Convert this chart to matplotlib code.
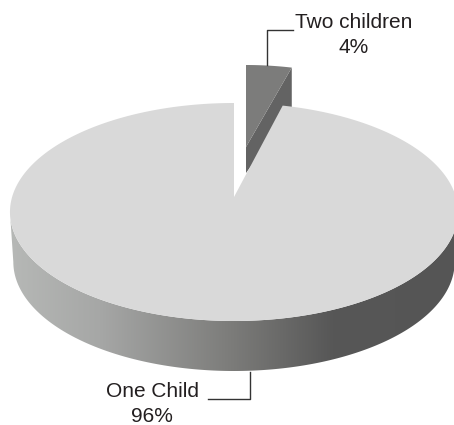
import matplotlib
matplotlib.use('Agg')
import matplotlib.pyplot as plt
from matplotlib.colors import LinearSegmentedColormap
from matplotlib.patches import Polygon
import numpy as np

plt.rcParams['font.family'] = ['Liberation Sans', 'DejaVu Sans']

labels = ['One Child', 'Two children']
shares = [96, 4]

# projection of the disc (pixels, picture is 454x425)
cx, cy = 234, 212
half_w, half_h = 221.9, 109
persp = 0.1376
apex_drop = 15
wall = 50


def project(theta, lift=0.0, shrink=1.0):
    # theta in degrees, clockwise from the top of the disc
    t = np.radians(theta)
    u, v = np.sin(t), np.cos(t)
    d = 1 + persp * v
    return cx + shrink * half_w * u / d, cy + (-half_h * v - apex_drop) / d + lift


fig = plt.figure(figsize=(4.54, 4.25), dpi=100)
ax = fig.add_axes([0, 0, 1, 1])
ax.set_xlim(0, 454)
ax.set_ylim(425, 0)
ax.axis('off')

split = shares[1] / sum(shares) * 360

# pulled out slice
rim = np.linspace(0, split, 30)
rx, ry = project(rim)
ax_x, ax_y = cx + 12, 147
wx = ax_x + (rx - cx) * 0.94
wy = ry - 38
ax.add_patch(Polygon(np.column_stack([[wx[-1], wx[-1], ax_x, ax_x],
                                      [wy[-1], ry[-1] + 5, ax_y + 26, ax_y]]),
                     fc='#636363', ec='none', zorder=1))
ax.add_patch(Polygon(np.column_stack([np.r_[ax_x, wx], np.r_[ax_y, wy]]),
                     fc='#7c7c7b', ec='none', zorder=2))

# side wall with its gradient, starts where the rim is widest
ramp = LinearSegmentedColormap.from_list('wall', [(0, '#b6b8b6'), (0.2, '#a6a7a6'), (0.5, '#7b7b79'),
                                                  (0.72, '#575757'), (1, '#555555')])
widest = np.degrees(np.arccos(-persp))
front = np.linspace(widest, 360 - widest, 200)
tx, ty = project(front)
bx, by = project(front, lift=wall, shrink=0.985)
side = Polygon(np.column_stack([np.r_[tx, bx[::-1]], np.r_[ty, by[::-1]]]), fc='none', ec='none')
ax.add_patch(side)
grad = ax.imshow(np.linspace(0, 1, 256)[None, :], cmap=ramp, extent=(10, 458, 425, 0), aspect='auto', zorder=3)
grad.set_clip_path(side)
ax.set_xlim(0, 454)
ax.set_ylim(425, 0)

# main slice top
rest = np.linspace(split, 360, 400)
mx, my = project(rest)
ax.add_patch(Polygon(np.column_stack([np.r_[cx, mx], np.r_[cy - apex_drop, my]]),
                     fc='#d9d9d9', ec='none', zorder=4))

# leader lines and labels
ax.plot([267, 267, 293], [65, 30, 30], color='#333333', lw=1, zorder=5)
ax.plot([250, 250, 208], [372, 399, 399], color='#333333', lw=1, zorder=5)
ax.text(354, 35, f'{labels[1]}\n{shares[1]}%', ha='center', va='center', fontsize=15,
        color='#231f20', linespacing=1.42)
ax.text(152, 404, f'{labels[0]}\n{shares[0]}%', ha='center', va='center', fontsize=15,
        color='#231f20', linespacing=1.42)

fig.savefig('out.png', dpi=100)
